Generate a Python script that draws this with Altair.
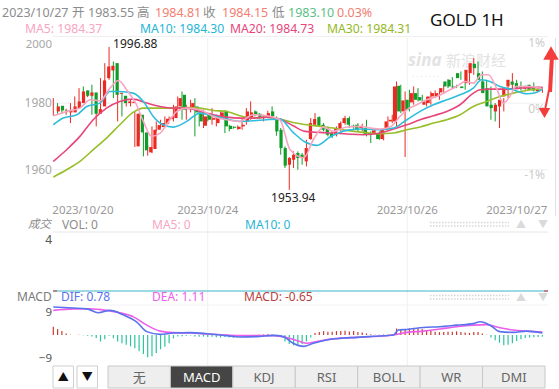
import altair as alt
import pandas as pd

# ---------------- data ----------------
OPEN = [1977.5, 1979.2, 1977.8, 1977.2, 1977.2, 1978.5, 1980.0, 1983.8, 1982.2, 1983.2,
        1976.8, 1979.0, 1987.5, 1989.8, 1992.0, 1982.8, 1982.2, 1980.0, 1980.0, 1967.0,
        1976.5, 1971.2, 1965.2, 1966.2, 1972.0, 1972.8, 1973.8, 1975.2, 1975.5, 1979.0,
        1982.5, 1978.2, 1978.5, 1979.0, 1977.2, 1973.2, 1976.5, 1975.0, 1974.0, 1975.5,
        1977.7, 1973.2, 1972.9, 1972.2, 1973.0, 1974.5, 1975.8, 1977.5, 1976.8, 1975.5,
        1976.0, 1977.5, 1975.5, 1972.0, 1966.5, 1961.5, 1963.0, 1965.0, 1964.5, 1962.5,
        1969.2, 1973.5, 1975.8, 1973.5, 1972.8, 1971.0, 1970.5, 1972.2, 1974.0, 1975.5,
        1973.2, 1973.5, 1972.5, 1972.5, 1971.0, 1971.0, 1971.0, 1969.2, 1972.2, 1974.5,
        1974.5, 1985.2, 1977.5, 1981.0, 1980.2, 1983.0, 1981.8, 1979.5, 1980.0, 1982.0,
        1982.0, 1983.2, 1986.5, 1987.0, 1985.0, 1989.0, 1985.0, 1986.0, 1989.0, 1991.8,
        1989.0, 1986.5, 1984.5, 1979.5, 1977.5, 1979.0, 1982.0, 1985.0, 1986.5, 1986.0,
        1985.0, 1984.3, 1985.5, 1984.5, 1983.55]
HIGH = [1981.5, 1980.0, 1978.3, 1978.3, 1980.0, 1982.0, 1984.5, 1985.0, 1983.8, 1985.5,
        1979.0, 1987.5, 1992.0, 1996.88, 1992.5, 1986.5, 1983.0, 1981.5, 1981.0, 1977.5,
        1977.0, 1972.0, 1967.5, 1973.0, 1974.5, 1975.0, 1976.0, 1976.0, 1979.5, 1982.0,
        1983.5, 1979.5, 1981.0, 1981.5, 1977.5, 1978.0, 1977.0, 1978.5, 1976.5, 1977.7,
        1977.8, 1973.5, 1973.0, 1973.3, 1975.3, 1978.5, 1980.5, 1977.8, 1977.0, 1976.5,
        1977.7, 1979.0, 1976.0, 1972.5, 1967.0, 1963.8, 1965.5, 1965.5, 1965.0, 1969.0,
        1975.5, 1977.0, 1976.0, 1974.0, 1973.0, 1971.5, 1973.0, 1974.5, 1976.2, 1976.0,
        1973.5, 1974.0, 1973.8, 1975.0, 1971.5, 1972.5, 1971.5, 1972.5, 1976.0, 1976.5,
        1986.5, 1985.5, 1983.5, 1984.0, 1985.0, 1984.5, 1982.5, 1981.8, 1983.5, 1983.8,
        1983.5, 1985.5, 1987.2, 1987.8, 1985.5, 1989.5, 1986.0, 1990.5, 1993.5, 1992.5,
        1989.5, 1987.0, 1985.0, 1980.0, 1980.0, 1981.5, 1985.0, 1989.0, 1987.0, 1986.5,
        1985.3, 1985.5, 1986.2, 1985.0, 1984.81]
LOW = [1976.2, 1976.8, 1976.8, 1976.5, 1974.0, 1978.0, 1979.5, 1980.5, 1981.8, 1976.5,
       1973.0, 1977.5, 1986.0, 1987.0, 1981.5, 1974.5, 1976.0, 1979.0, 1979.0, 1966.8,
       1969.0, 1964.0, 1964.2, 1965.0, 1971.5, 1972.5, 1973.5, 1974.8, 1974.5, 1978.5,
       1975.0, 1975.0, 1977.2, 1970.0, 1973.0, 1972.5, 1974.5, 1973.5, 1973.0, 1975.2,
       1971.0, 1971.5, 1972.3, 1972.0, 1972.0, 1973.5, 1975.0, 1976.0, 1975.3, 1974.5,
       1975.5, 1975.5, 1970.2, 1964.5, 1960.5, 1953.94, 1960.5, 1960.0, 1961.5, 1961.0,
       1969.0, 1973.2, 1973.0, 1971.5, 1970.0, 1969.5, 1970.0, 1971.5, 1973.5, 1972.5,
       1972.3, 1971.5, 1971.5, 1970.0, 1968.0, 1970.5, 1969.0, 1968.8, 1972.0, 1974.0,
       1973.0, 1977.0, 1963.8, 1977.5, 1979.5, 1980.5, 1980.2, 1979.0, 1979.5, 1981.5,
       1981.0, 1982.8, 1984.5, 1984.5, 1984.5, 1987.0, 1984.0, 1985.5, 1988.5, 1989.0,
       1986.0, 1982.5, 1975.0, 1974.5, 1972.5, 1977.5, 1981.5, 1984.5, 1985.0, 1983.8,
       1984.0, 1984.0, 1983.5, 1983.5, 1983.10]
CLOSE = [1979.0, 1977.8, 1977.3, 1977.8, 1979.0, 1980.5, 1983.5, 1982.2, 1983.2, 1976.8,
         1978.2, 1986.8, 1991.0, 1991.2, 1982.5, 1983.1, 1980.0, 1980.5, 1980.4, 1976.8,
         1971.2, 1965.8, 1966.8, 1972.0, 1973.4, 1974.0, 1975.3, 1975.7, 1979.0, 1981.5,
         1978.0, 1978.7, 1980.0, 1977.2, 1974.5, 1976.0, 1975.0, 1975.5, 1976.0, 1977.2,
         1973.0, 1972.2, 1972.6, 1972.9, 1973.5, 1977.5, 1977.2, 1976.5, 1975.8, 1975.8,
         1977.0, 1976.0, 1971.5, 1966.5, 1961.2, 1963.5, 1964.5, 1963.5, 1963.5, 1966.5,
         1974.0, 1975.2, 1973.2, 1972.0, 1970.5, 1970.0, 1972.5, 1974.0, 1975.5, 1973.5,
         1972.8, 1972.0, 1973.0, 1970.5, 1970.5, 1971.8, 1969.2, 1972.0, 1974.5, 1975.0,
         1985.0, 1977.5, 1980.8, 1978.0, 1983.0, 1981.0, 1980.8, 1980.5, 1982.0, 1983.0,
         1983.0, 1984.5, 1985.0, 1985.0, 1984.7, 1987.5, 1984.5, 1990.0, 1992.0, 1990.5,
         1987.0, 1983.0, 1979.0, 1978.5, 1979.5, 1981.0, 1984.5, 1987.0, 1985.5, 1984.2,
         1984.5, 1985.0, 1984.0, 1983.8, 1984.15]

MA5_I = [0, 3.1, 6.2, 8.6, 10.9, 13.2, 15.2, 17.1, 19.4, 21, 22.9, 24.9, 27.2, 28.8, 31.1,
         34.2, 37.3, 40.4, 43.5, 46.6, 49.7, 52.8, 55.2, 58.4, 60.6, 63, 65.3, 68.4, 71.5,
         73.9, 76.2, 78.5, 80.8, 82.4, 84.7, 87, 89.4, 91.7, 94, 96, 97.9, 99.8, 101.4,
         103.3, 104.9, 106.4, 107.9, 111.1, 114]
MA5_V = [1976.2, 1977.5, 1978.5, 1981, 1980.7, 1984.5, 1986.8, 1984, 1979.5, 1974.5, 1970,
         1971, 1975, 1977.5, 1978.5, 1978, 1976, 1975, 1974.5, 1976.5, 1976.2, 1975, 1966,
         1963.6, 1969, 1972.8, 1971.5, 1972.8, 1973, 1972.5, 1972.2, 1972.8, 1976, 1978,
         1979.5, 1981, 1982, 1983.5, 1985, 1986.5, 1986, 1988.5, 1988.5, 1984.5, 1980, 1982,
         1985, 1985, 1984.37]
MA10_I = [0, 2.3, 5.5, 7.8, 10.9, 13.2, 15.5, 18.6, 21, 23.3, 25.6, 28, 31.1, 34.2, 37.3,
          40.4, 43.5, 46.6, 49.7, 52.8, 55.9, 58.7, 61.4, 64.5, 68.4, 72.3, 76.2, 79.3, 82.4,
          85.5, 88.6, 91.7, 94.8, 97.9, 99.8, 101.8, 104.1, 107.2, 110.3, 112.6, 114]
MA10_V = [1973.5, 1975.5, 1976.5, 1979, 1980, 1983.5, 1983.5, 1983, 1980.5, 1976, 1973.5,
          1972.8, 1974.5, 1977, 1976.2, 1975.2, 1974.5, 1974.7, 1975, 1975.2, 1971.2, 1968.3,
          1967.3, 1969.8, 1971.8, 1972.2, 1972, 1972.5, 1975, 1977.5, 1979.5, 1981, 1982.5,
          1984.5, 1987, 1986.5, 1985, 1984, 1982.8, 1983.2, 1984.30]
MA20_I = [0, 3.1, 6.2, 9.3, 12.4, 15.5, 18.6, 21.8, 24.9, 28, 31.1, 34.2, 37.3, 40.4, 43.5,
          46.6, 49.7, 52.8, 55.9, 58.7, 62.2, 65.3, 68.4, 72.3, 76.2, 79.3, 82.4, 85.5, 88.6,
          91.7, 94.8, 97.9, 99.5, 101.8, 105.6, 108.7, 111.8, 114]
MA20_V = [1962.5, 1966, 1970, 1975, 1978.5, 1980.5, 1981.2, 1980, 1979, 1978.5, 1978.5,
          1977.5, 1976.5, 1975.8, 1975.5, 1975.5, 1975.8, 1975.2, 1973.2, 1971.5, 1971.2,
          1971, 1970.7, 1970.5, 1971, 1972.2, 1973.5, 1975, 1976.2, 1977.5, 1979.5, 1983,
          1984, 1984.2, 1984.2, 1984.5, 1984.7, 1984.73]
MA30_I = [0, 3.1, 6.2, 9.3, 12.4, 15.5, 18.6, 21, 24.1, 28, 31.1, 34.2, 37.3, 40.4, 43.5,
          46.6, 49.7, 52.8, 55.9, 59.1, 62.2, 65.3, 68.4, 72.3, 76.2, 79.3, 82.4, 85.5, 88.6,
          91.7, 94.8, 97.9, 101, 104.1, 107.2, 110.3, 114]
MA30_V = [1957.8, 1960, 1962.5, 1966, 1969.5, 1973.5, 1977.2, 1978.5, 1978.5, 1978.5,
          1978.7, 1978.5, 1977.8, 1977.5, 1976.2, 1975.5, 1975.8, 1975.2, 1974.2, 1973.5,
          1973, 1972.5, 1971.8, 1971.2, 1970.8, 1971, 1972, 1972.8, 1974, 1975, 1976.5, 1979,
          1980.5, 1982, 1983, 1983.8, 1984.31]

DIF_I = [0, 4.66, 7.78, 10.5, 13.2, 16.3, 19.4, 21.8, 24.9, 28, 31.9, 35.8, 40.4, 43.5, 47.4,
         51.3, 53.6, 55.9, 58.3, 60.6, 63.7, 66.8, 70.7, 74.6, 79.3, 80.4, 82.4, 86.3, 90.1,
         94, 97.9, 99.5, 101.8, 104.1, 107.2, 110.3, 114]
DIF_V = [10.8, 10.4, 10.1, 8.6, 9.5, 7.8, 5.1, 1.3, 0.25, 0.76, 0.9, 0.5, -0.25, -0.76,
         -0.63, -0.13, -0.63, -3.2, -4.4, -3.2, -1.9, -1.3, -0.9, -0.5, 0, 1.9, 2.15, 2.9,
         3.2, 3.8, 4.4, 5.1, 3.8, 1.3, 1.0, 1.5, 0.78]
DEA_I = [0, 4.66, 8.55, 12.4, 15.5, 18.7, 21.8, 24.9, 28, 31.9, 35.8, 40.4, 43.5, 51.3,
         54.4, 57.5, 59, 61.4, 65.3, 70.7, 74.6, 79.3, 82.4, 86.3, 90.1, 94, 97.9, 101,
         104.1, 107.2, 110.3, 114]
DEA_V = [9.5, 10.1, 10.1, 9.5, 8.6, 7.0, 3.8, 1.5, 0.9, 0.76, 0.4, 0, -0.25, -0.25, -1.0,
         -2.5, -3.2, -2.5, -1.5, -0.9, -0.6, 0, 1.0, 1.5, 2.3, 3.2, 3.8, 4.0, 2.8, 1.9, 1.5,
         1.11]
HIST = [3.2, 2.3, 1.5, 0.6, 0.1, 0.0, 0.1, -0.1, -0.3, -0.6,
        -1.2, -2.5, -1.6, -0.3, -1.3, -2.5, -3.2, -3.8, -4.4, -5.1,
        -6.3, -7.3, -8.6, -8.2, -7.0, -5.5, -4.5, -3.2, -1.3, -0.6,
        -0.5, -0.3, -0.2, -0.6, -0.7, -0.6, -0.8, -0.7, -0.9, -1.0,
        -0.8, -1.0, -1.1, -0.9, -0.7, -0.5, -0.3, -0.2, 0.1, 0.2,
        0.3, 0.1, -0.3, -0.8, -2.5, -3.5, -4.0, -3.8, -3.5, -2.5,
        -1.0, 0.8, 1.2, 1.5, 1.3, 1.3, 1.5, 1.5, 1.6, 1.4,
        1.5, 1.2, 1.0, 0.6, 0.3, 0.1, 0.1, 0.2, 0.1, 0.3,
        2.5, 2.2, 2.3, 2.5, 2.8, 2.6, 2.3, 1.9, 1.5, 1.3,
        1.1, 1.2, 1.3, 1.3, 1.4, 1.2, 1.0, 0.8, 1.2, 1.2,
        0.6, 0.1, -1.0, -2.0, -3.0, -4.0, -3.8, -3.2, -2.3, -1.6,
        -1.2, -1.0, -0.9, -0.8, -0.65]

PRICE_TICKS = [1980, 1960]
PCT_LABELS = ["1%", "0%", "-1%"]
PCT_PRICES = [1997.9, 1978.1, 1958.3]
DATE_LABELS = ["2023/10/20", "2023/10/24", "2023/10/26", "2023/10/27"]
DAY_START_IDX = [36, 82.5]
TABS = ["无", "MACD", "KDJ", "RSI", "BOLL", "WR", "DMI"]

# ---------------- styling ----------------
FONT = "Microsoft YaHei, Noto Sans, Noto Sans CJK SC, sans-serif"
RED, GREEN = "#ea2a22", "#109c28"
C_MA5, C_MA10, C_MA20, C_MA30 = "#f8a5c2", "#2fbddc", "#e8457a", "#98be2a"
C_DIF, C_DEA = "#5a72ee", "#ea5eea"
H_RED, H_GREEN = "#c83a30", "#2cc49c"
GRID = "#efefef"

N = len(CLOSE)
XS = alt.Scale(domain=[0, N - 1], range=[53.3, 542.4], nice=False, zero=False)
YM = alt.Scale(domain=[1950, 2000], range=[203.0, 36.5], nice=False, zero=False)
YD = alt.Scale(domain=[-9, 9], range=[358.3, 311.7], nice=False, zero=False)

ONE = pd.DataFrame({"k": [0]})
candles = pd.DataFrame({"i": list(range(N)), "open": OPEN, "high": HIGH,
                        "low": LOW, "close": CLOSE})
hist = pd.DataFrame({"i": list(range(N)), "h": HIST})

X = alt.X("i:Q", scale=XS, axis=None)
updown = alt.condition("datum.close >= datum.open", alt.value(RED), alt.value(GREEN))


def label(s, x, y, color, size=12, align="left", **kw):
    return alt.Chart(ONE).mark_text(text=s, align=align, baseline="middle", color=color,
                                    fontSize=size, font=FONT, **kw).encode(
        x=alt.value(x), y=alt.value(y))


def hline(x1, x2, y, color, width=1, **kw):
    return alt.Chart(ONE).mark_rule(color=color, strokeWidth=width, **kw).encode(
        x=alt.value(x1), x2=alt.value(x2), y=alt.value(y))


def box(x1, x2, y1, y2, fill, stroke):
    return alt.Chart(ONE).mark_rect(fill=fill, stroke=stroke, strokeWidth=1).encode(
        x=alt.value(x1), x2=alt.value(x2), y=alt.value(y1), y2=alt.value(y2))


def ma_line(I, V, color):
    return alt.Chart(pd.DataFrame({"i": I, "v": V})).mark_line(
        color=color, strokeWidth=1.6, interpolate="monotone").encode(
        x=X, y=alt.Y("v:Q", scale=YM, axis=None))


layers = []

# grid lines
layers.append(alt.Chart(pd.DataFrame({"v": [2000] + PRICE_TICKS})).mark_rule(
    color=GRID, strokeWidth=1).encode(
    y=alt.Y("v:Q", scale=YM, axis=None), x=alt.value(53), x2=alt.value(548)))
layers.append(alt.Chart(pd.DataFrame({"d": DAY_START_IDX})).mark_rule(
    color=GRID, strokeWidth=1).encode(
    x=alt.X("d:Q", scale=XS, axis=None), y=alt.value(38), y2=alt.value(366)))
layers.append(hline(53, 548, 232, "#e6e6e6"))
layers.append(hline(53, 548, 305, "#f2f2f2"))
layers.append(hline(53, 548, 291, "#3cb4c8", 1))
layers.append(hline(53, 57, 291, "#d03030", 1))
layers.append(hline(544, 548, 291, "#d03030", 1))
layers.append(alt.Chart(ONE).mark_rule(color="#dde2ea", strokeWidth=1).encode(
    x=alt.value(555.5), y=alt.value(38), y2=alt.value(216)))

# watermark
layers.append(label("sina", 408, 61, "#e3e3e3", 17, fontStyle="italic", fontWeight="bold"))
layers.append(label("新浪财经", 446, 61, "#e3e3e3", 15))
layers.append(label("· · · · · · ·", 412, 78, "#e8e8e8", 8))

# candles
layers.append(alt.Chart(candles).mark_rule(strokeWidth=1).encode(
    x=X, y=alt.Y("low:Q", scale=YM, axis=None), y2="high:Q", color=updown))
layers.append(alt.Chart(candles).mark_bar(size=3.2).encode(
    x=X, y=alt.Y("open:Q", scale=YM, axis=None), y2="close:Q", color=updown))

# moving averages
layers.append(ma_line(MA30_I, MA30_V, C_MA30))
layers.append(ma_line(MA20_I, MA20_V, C_MA20))
layers.append(ma_line(MA10_I, MA10_V, C_MA10))
layers.append(ma_line(MA5_I, MA5_V, C_MA5))

# high / low annotations
hi_i = HIGH.index(max(HIGH))
lo_i = LOW.index(min(LOW))
layers.append(alt.Chart(pd.DataFrame({"i": [hi_i], "v": [HIGH[hi_i]],
                                      "t": [f"{HIGH[hi_i]:.2f}"]})).mark_text(
    align="left", baseline="middle", dx=4, dy=-3, fontSize=12, font=FONT, color="#222").encode(
    x=X, y=alt.Y("v:Q", scale=YM, axis=None), text="t:N"))
layers.append(alt.Chart(pd.DataFrame({"i": [lo_i], "v": [LOW[lo_i]],
                                      "t": [f"{LOW[lo_i]:.2f}"]})).mark_text(
    align="center", baseline="middle", dx=4, dy=8, fontSize=12, font=FONT, color="#222").encode(
    x=X, y=alt.Y("v:Q", scale=YM, axis=None), text="t:N"))

# price axis labels
layers.append(alt.Chart(pd.DataFrame({"v": PRICE_TICKS})).mark_text(
    align="right", baseline="middle", fontSize=12, font=FONT, color="#a8a8a8").encode(
    y=alt.Y("v:Q", scale=YM, axis=None), x=alt.value(52), text=alt.Text("v:Q", format="d")))
layers.append(alt.Chart(pd.DataFrame({"v": [2000]})).mark_text(
    align="right", baseline="middle", dy=8, fontSize=11.5, font=FONT, color="#a8a8a8").encode(
    y=alt.Y("v:Q", scale=YM, axis=None), x=alt.value(52), text=alt.Text("v:Q", format="d")))
layers.append(alt.Chart(pd.DataFrame({"v": PCT_PRICES, "t": PCT_LABELS})).mark_text(
    align="right", baseline="middle", fontSize=12, font=FONT, color="#cccccc").encode(
    y=alt.Y("v:Q", scale=YM, axis=None), x=alt.value(545), text="t:N"))

# date labels
dates = pd.DataFrame({"i": [0, DAY_START_IDX[0], DAY_START_IDX[1], N - 1], "t": DATE_LABELS})
for k, (al, dx) in enumerate([("left", -1), ("center", 0), ("center", 0), ("right", 5)]):
    layers.append(alt.Chart(dates.iloc[[k]]).mark_text(
        align=al, baseline="middle", dx=dx, fontSize=11.5, font=FONT, color="#999").encode(
        x=X, y=alt.value(211), text="t:N"))

# red arrows (annotation)
ARROW = "#f43c3c"
layers.append(alt.Chart(ONE).mark_rule(color=ARROW, strokeWidth=4).encode(
    x=alt.value(552), y=alt.value(56), x2=alt.value(550), y2=alt.value(92)))
layers.append(alt.Chart(ONE).mark_rule(color=ARROW, strokeWidth=2).encode(
    x=alt.value(549), y=alt.value(90), x2=alt.value(545), y2=alt.value(110)))
layers.append(alt.Chart(ONE).mark_point(shape="triangle-up", filled=True, size=240,
                                        color=ARROW, opacity=1).encode(
    x=alt.value(551), y=alt.value(53)))
layers.append(alt.Chart(ONE).mark_point(shape="triangle-down", filled=True, size=130,
                                        color=ARROW, opacity=1).encode(
    x=alt.value(544.5), y=alt.value(113)))

# MACD panel
layers.append(alt.Chart(hist).mark_rule(strokeWidth=1.2).encode(
    x=X, y=alt.Y("h:Q", scale=YD, axis=None), y2=alt.datum(0),
    color=alt.condition("datum.h >= 0", alt.value(H_RED), alt.value(H_GREEN))))
layers.append(alt.Chart(pd.DataFrame({"i": DEA_I, "v": DEA_V})).mark_line(
    color=C_DEA, strokeWidth=1.6, interpolate="monotone").encode(
    x=X, y=alt.Y("v:Q", scale=YD, axis=None)))
layers.append(alt.Chart(pd.DataFrame({"i": DIF_I, "v": DIF_V})).mark_line(
    color=C_DIF, strokeWidth=1.6, interpolate="monotone").encode(
    x=X, y=alt.Y("v:Q", scale=YD, axis=None)))
layers.append(alt.Chart(pd.DataFrame({"v": [9, -9]})).mark_text(
    align="right", baseline="middle", dy=1, fontSize=11.5, font=FONT, color="#555").encode(
    y=alt.Y("v:Q", scale=YD, axis=None), x=alt.value(52), text=alt.Text("v:Q", format="d")))

# header texts
G = "#8c8c8c"
UPT, DNT = "#f27e70", "#5cbf86"
for s, x, c in [("2023/10/27", 2, G), ("开", 72, G), ("1983.55", 88, G), ("高", 137, G),
                ("1984.81", 155, UPT), ("收", 203, G), ("1984.15", 222, UPT), ("低", 272, G),
                ("1983.10", 288, DNT), ("0.03%", 337, UPT)]:
    layers.append(label(s, x, 13, c, 12.5))
for s, x, c in [("MA5: 1984.37", 25, C_MA5), ("MA10: 1984.30", 140, "#25b5d5"),
                ("MA20: 1984.73", 230, C_MA20), ("MA30: 1984.31", 327, "#94b828")]:
    layers.append(label(s, x, 28.5, c, 12.2))
layers.append(label("GOLD 1H", 430, 21, "#111", 17))

# volume panel texts
layers.append(label("成交", 28, 225, G, 11.5, fontStyle="italic"))
layers.append(label("VOL: 0", 62, 225, G, 12))
layers.append(label("MA5: 0", 152, 225, C_MA5, 12))
layers.append(label("MA10: 0", 245, 225, "#25b5d5", 12))
layers.append(label("4", 52, 239.5, "#555", 12, align="right"))

# MACD texts
layers.append(label("MACD", 17, 297, "#7a7a7a", 12))
layers.append(label("DIF: 0.78", 61, 297, C_DIF, 12))
layers.append(label("DEA: 1.11", 152, 297, C_DEA, 12))
layers.append(label("MACD: -0.65", 244, 297, "#b84040", 12))

# small controls at the right of the sub-panels
for yy in (222.5, 226, 295.5, 299):
    layers.append(hline(430, 509, yy, "#d6d6d6", 1.5, strokeDash=[1.5, 1.5]))
for yy in (225, 298):
    layers.append(label("▲", 521, yy, "#dadada", 10, align="center"))
    layers.append(label("▼", 543, yy, "#dadada", 10, align="center"))

# bottom tab bar
layers.append(box(53, 73.5, 366, 388, "#ffffff", "#cfcfcf"))
layers.append(box(77, 97.5, 366, 388, "#ffffff", "#cfcfcf"))
layers.append(label("▲", 63.2, 377.5, "#111", 11, align="center"))
layers.append(label("▼", 87.2, 377.5, "#111", 11, align="center"))
tab_w = (545 - 108) / len(TABS)
for k, t in enumerate(TABS):
    x1 = 108 + k * tab_w
    active = (t == "MACD")
    layers.append(box(x1, x1 + tab_w, 366, 388, "#454545" if active else "#eeeeee", "#c8c8c8"))
    layers.append(label(t, x1 + tab_w / 2, 377.5, "#ffffff" if active else "#666666", 13,
                        align="center"))

chart = alt.layer(*layers).resolve_scale(y="independent", x="independent").properties(
    width=559, height=389, padding=0, autosize="none", background="white"
).configure_view(stroke=None)

chart.save("out.html", embed_options={"renderer": "svg", "actions": False})
